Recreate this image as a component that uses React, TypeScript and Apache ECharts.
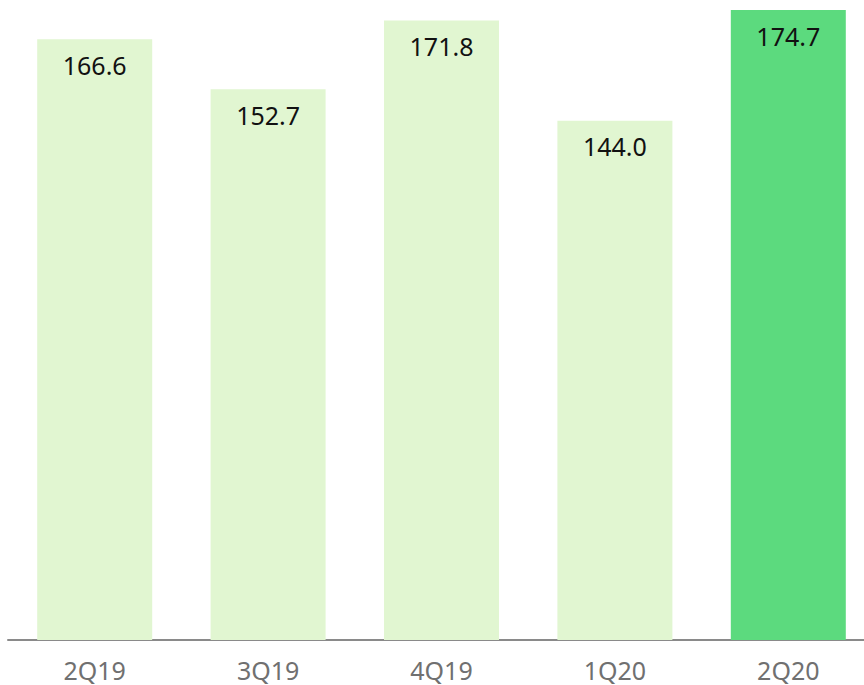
import React, { useEffect, useRef } from "react";
import * as echarts from "echarts";

const categories = ["2Q19", "3Q19", "4Q19", "1Q20", "2Q20"];
const values = [166.6, 152.7, 171.8, 144.0, 174.7];
const highlightIndex = 4;

export default function App() {
  const ref = useRef<HTMLDivElement>(null);
  useEffect(() => {
    document.body.style.margin = "0";
    if (!ref.current) return;
    const chart = echarts.init(ref.current, null, { renderer: "svg" });
    chart.setOption({
      animation: false,
      grid: { left: 8, top: 10, right: 5, bottom: 45 },
      xAxis: {
        type: "category",
        data: categories,
        axisLine: { show: true, lineStyle: { color: "#8a8a8a", width: 2 } },
        axisTick: { show: false },
        axisLabel: {
          color: "#707070",
          fontSize: 25,
          fontFamily: "Noto Sans",
          margin: 17,
        },
      },
      yAxis: {
        type: "value",
        min: 0,
        max: 174.7,
        show: false,
        splitLine: { show: false },
      },
      series: [
        {
          type: "bar",
          barWidth: 115,
          data: values.map((v, i) => ({
            value: v,
            itemStyle: { color: i === highlightIndex ? "#5cda7e" : "#e1f6d1" },
          })),
          label: {
            show: true,
            position: "insideTop",
            distance: 13,
            color: "#111",
            fontSize: 25,
            fontFamily: "Noto Sans",
            formatter: (p: any) => p.value.toFixed(1),
          },
        },
      ],
    });
    return () => chart.dispose();
  }, []);
  return (
    <div style={{ width: 864, height: 685, overflow: "hidden" }}>
      <div ref={ref} style={{ width: 880, height: 685 }} />
    </div>
  );
}
